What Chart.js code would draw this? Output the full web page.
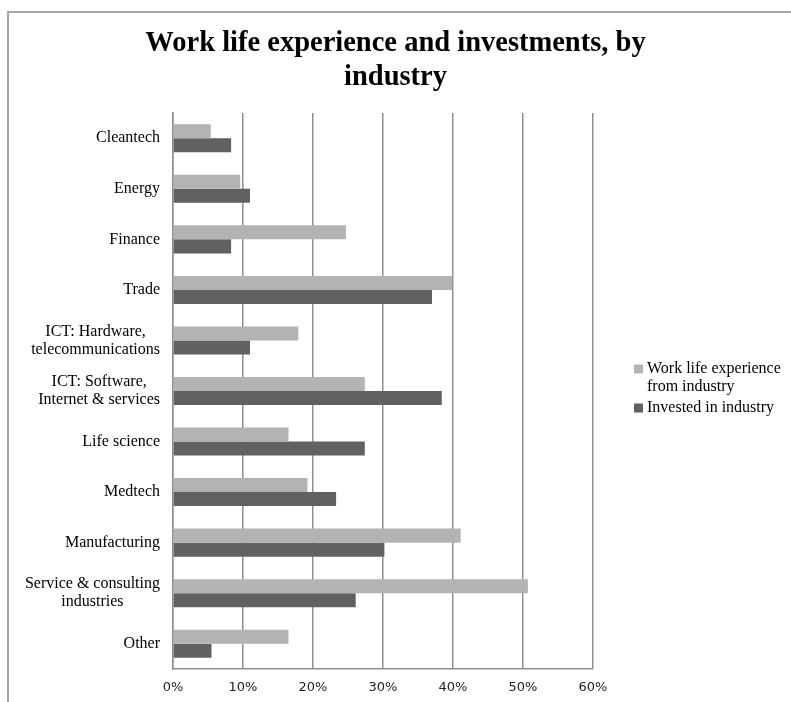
<!DOCTYPE html>
<html>
<head>
<meta charset="utf-8">
<script src="https://cdn.jsdelivr.net/npm/chart.js@4/dist/chart.umd.min.js"></script>
<style>
  html, body { margin: 0; padding: 0; background: #fff; }
  #wrap { width: 791px; height: 702px; position: relative; }
</style>
</head>
<body>
<div id="wrap"><canvas id="c" width="791" height="702"></canvas></div>
<script>
const titleLines = ['Work life experience and investments, by', 'industry'];
const categories = [
  ['Cleantech'],
  ['Energy'],
  ['Finance'],
  ['Trade'],
  ['ICT: Hardware,', 'telecommunications'],
  ['ICT: Software,', 'Internet & services'],
  ['Life science'],
  ['Medtech'],
  ['Manufacturing'],
  ['Service & consulting', 'industries'],
  ['Other']
];
const seriesNames = [['Work life experience', 'from industry'], ['Invested in industry']];
const workExperience = [5.4, 9.6, 24.7, 39.9, 17.9, 27.4, 16.5, 19.2, 41.1, 50.7, 16.5];
const investedIn     = [8.3, 11.0, 8.3, 37.0, 11.0, 38.4, 27.4, 23.3, 30.2, 26.1, 5.5];
const xTicks = [0, 10, 20, 30, 40, 50, 60];

const colors = ['#b3b3b3', '#616161'];
const serif = "'Liberation Serif', 'Times New Roman', serif";

const framePlugin = {
  id: 'frame',
  beforeDraw(chart) {
    const ctx = chart.ctx;
    ctx.save();
    ctx.fillStyle = '#fff';
    ctx.fillRect(0, 0, chart.width, chart.height);
    ctx.strokeStyle = '#a6a6a6';
    ctx.lineWidth = 2;
    ctx.beginPath();
    ctx.moveTo(8, chart.height);
    ctx.lineTo(8, 12);
    ctx.lineTo(chart.width, 12);
    ctx.stroke();
    ctx.restore();
  },
  afterDraw(chart) {
    const ctx = chart.ctx;
    ctx.save();
    ctx.font = 'bold 28.5px ' + serif;
    ctx.fillStyle = '#000';
    ctx.textAlign = 'center';
    ctx.textBaseline = 'middle';
    titleLines.forEach((l, k) => ctx.fillText(l, chart.width / 2, 44 + k * 34));
    ctx.restore();
  }
};

const yLabelPlugin = {
  id: 'ylabels',
  afterDraw(chart) {
    const ctx = chart.ctx;
    const scale = chart.scales.y;
    ctx.save();
    ctx.font = '16px ' + serif;
    ctx.fillStyle = '#000';
    ctx.textAlign = 'center';
    ctx.textBaseline = 'middle';
    const right = scale.right - 13;
    const lh = 18;
    categories.forEach((lines, i) => {
      const yc = scale.getPixelForValue(i);
      const w = Math.max(...lines.map(l => ctx.measureText(l).width));
      const xc = right - w / 2;
      const y0 = yc - (lines.length - 1) * lh / 2;
      lines.forEach((l, k) => ctx.fillText(l, xc, y0 + k * lh));
    });
    ctx.restore();
  }
};

const legendPlugin = {
  id: 'customLegend',
  afterDraw(chart) {
    const ctx = chart.ctx;
    const ca = chart.chartArea;
    const cy = (ca.top + ca.bottom) / 2;
    ctx.save();
    ctx.font = '16px ' + serif;
    ctx.textBaseline = 'middle';
    ctx.textAlign = 'left';
    const boxX = ca.right + 41;
    const textX = ca.right + 54;
    const starts = [cy - 22, cy + 17];
    seriesNames.forEach((lines, i) => {
      const y = starts[i];
      ctx.fillStyle = colors[i];
      ctx.fillRect(boxX, y - 4.5, 9, 9);
      ctx.fillStyle = '#000';
      lines.forEach((l, k) => ctx.fillText(l, textX, y + k * 18));
    });
    ctx.restore();
  }
};

new Chart(document.getElementById('c'), {
  type: 'bar',
  data: {
    labels: categories,
    datasets: [
      { label: seriesNames[0].join(' '), data: workExperience, backgroundColor: colors[0],
        categoryPercentage: 0.555, barPercentage: 1.0 },
      { label: seriesNames[1].join(' '), data: investedIn, backgroundColor: colors[1],
        categoryPercentage: 0.555, barPercentage: 1.0 }
    ]
  },
  options: {
    indexAxis: 'y',
    responsive: false,
    animation: false,
    devicePixelRatio: 1,
    layout: { padding: { left: 8, top: 113, right: 198, bottom: 0 } },
    plugins: {
      legend: { display: false },
      tooltip: { enabled: false },
      title: { display: false }
    },
    scales: {
      x: {
        min: 0, max: 60,
        afterBuildTicks(scale) { scale.ticks = xTicks.map(v => ({ value: v })); },
        afterFit(scale) { scale.height = 33; },
        ticks: {
          callback: v => v + '%',
          color: '#222',
          font: { family: "'DejaVu Sans', sans-serif", size: 13 },
          padding: 11
        },
        grid: { color: '#8f8f8f', lineWidth: 1.5, drawTicks: false },
        border: { display: true, color: '#8f8f8f', width: 1.5 }
      },
      y: {
        afterFit(scale) { scale.width = 165; },
        ticks: { display: false },
        grid: { display: false },
        border: { display: true, color: '#8f8f8f', width: 1.5 }
      }
    }
  },
  plugins: [framePlugin, yLabelPlugin, legendPlugin]
});
</script>
</body>
</html>
